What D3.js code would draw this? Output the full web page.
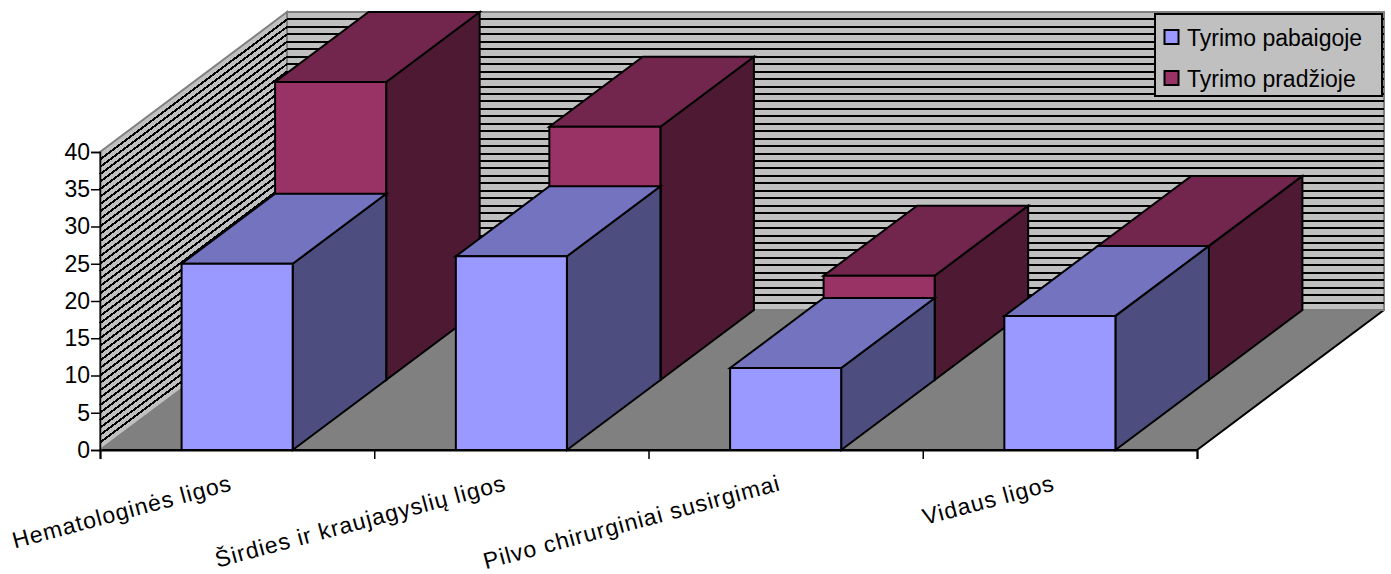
<!DOCTYPE html>
<meta charset="utf-8">
<style>
body { margin: 0; background: #fff; }
text { font-family: "Liberation Sans", Arial, sans-serif; fill: #000; }
.face { stroke: #000; stroke-width: 2; stroke-linejoin: miter; }
</style>
<svg width="1391" height="574"></svg>
<script src="https://cdn.jsdelivr.net/npm/d3@7"></script>
<script>

var categories = ["Hematologinės ligos", "Širdies ir kraujagyslių ligos", "Pilvo chirurginiai susirgimai", "Vidaus ligos"];
var pabaigoje = [25, 26, 11, 18];
var pradzioje = [40, 34, 14, 18];
var seriesNames = ["Tyrimo pabaigoje", "Tyrimo pradžioje"];
var yTicks = [0, 5, 10, 15, 20, 25, 30, 35, 40];

var svg = d3.select("svg");

var x = d3.scaleBand()
    .domain(categories)
    .range([100, 1197])
    .paddingInner(.595)
    .paddingOuter(.2975);

var xEdge = d3.scaleLinear().domain([0, 4]).range([100, 1197]);

var y = d3.scaleLinear().domain([0, 40]).range([450, 152]);

// depth goes from 0 (front) to 1 (back wall)
var depthX = d3.scaleLinear().domain([0, 1]).range([0, 187]);
var depthY = d3.scaleLinear().domain([0, 1]).range([0, -140]);

function pt(px, value, depth) {
  return [px + depthX(depth), y(value) + depthY(depth)];
}

var line = d3.line();
function poly(points) { return line(points) + "Z"; }

var x0 = xEdge(0), x1 = xEdge(4);

// floor
svg.append("path")
    .attr("d", poly([pt(x0, 0, 0), pt(x1, 0, 0), pt(x1, 0, 1), pt(x0, 0, 1)]))
    .attr("fill", "#808080");
svg.append("path")
    .attr("d", line([pt(x0, 0, 0), pt(x1, 0, 0), pt(x1, 0, 1)]))
    .attr("fill", "none")
    .attr("stroke", "#000")
    .attr("stroke-width", 2);

// walls
svg.append("path")
    .attr("d", poly([pt(x0, 0, 1), pt(x1, 0, 1), pt(x1, 40, 1), pt(x0, 40, 1)]))
    .attr("fill", "#c0c0c0")
    .attr("stroke", "#808080")
    .attr("stroke-width", 2);
svg.append("path")
    .attr("d", poly([pt(x0, 0, 0), pt(x0, 0, 1), pt(x0, 40, 1), pt(x0, 40, 0)]))
    .attr("fill", "#c0c0c0")
    .attr("stroke", "#808080")
    .attr("stroke-width", 2);

// gridlines, one per unit
var grid = svg.append("g")
    .attr("stroke", "#000")
    .attr("stroke-width", 2)
    .attr("shape-rendering", "crispEdges")
    .attr("fill", "none");
grid.selectAll(".back")
  .data(d3.range(1, 40))
  .enter().append("path")
    .attr("class", "back")
    .attr("d", function(d) { return line([pt(x0, d, 1), pt(x1, d, 1)]); });
grid.selectAll(".side")
  .data(d3.range(1, 40))
  .enter().append("path")
    .attr("class", "side")
    .attr("d", function(d) { return line([pt(x0, d, 0), pt(x0, d, 1)]); });

function drawBars(values, d0, d1, front, top, side) {
  var g = svg.append("g");
  categories.forEach(function(c, i) {
    var a = x(c), b = a + x.bandwidth(), v = values[i];
    g.append("path").attr("class", "face").attr("fill", side)
        .attr("d", poly([pt(b, 0, d0), pt(b, 0, d1), pt(b, v, d1), pt(b, v, d0)]));
    g.append("path").attr("class", "face").attr("fill", top)
        .attr("d", poly([pt(a, v, d0), pt(b, v, d0), pt(b, v, d1), pt(a, v, d1)]));
    g.append("path").attr("class", "face").attr("fill", front)
        .attr("d", poly([pt(a, 0, d0), pt(b, 0, d0), pt(b, v, d0), pt(a, v, d0)]));
  });
}

drawBars(pradzioje, .5, 1, "#993366", "#73264d", "#4d1933");
drawBars(pabaigoje, 0, .5, "#9999ff", "#7373bf", "#4d4d80");

// axes
var yAxis = svg.append("g")
    .attr("transform", "translate(" + x0 + ",0)")
    .call(d3.axisLeft(y).tickValues(yTicks).tickSize(9).tickPadding(1));
yAxis.selectAll("text").attr("font-size", 23).attr("font-family", null);
yAxis.selectAll("line").attr("stroke", "#000").attr("stroke-width", 1.5);
yAxis.select(".domain").attr("stroke-width", 1.5);

var xAxis = svg.append("g")
    .attr("transform", "translate(0," + y(0) + ")")
    .call(d3.axisBottom(xEdge).tickValues([0, 1, 2, 3, 4]).tickSize(9).tickFormat(""));
xAxis.selectAll("line").attr("stroke", "#000").attr("stroke-width", 1.5);
xAxis.select(".domain").attr("stroke-width", 2);

svg.append("g").selectAll("text")
  .data(categories)
  .enter().append("text")
    .attr("text-anchor", "end")
    .attr("font-size", 23)
    .attr("letter-spacing", 1)
    .attr("transform", function(d) {
      return "translate(" + (x(d) + x.bandwidth() / 2 - 4) + ",490) rotate(-15)";
    })
    .text(function(d) { return d; });

// legend
var legend = svg.append("g");
legend.append("rect")
    .attr("x", 1155).attr("y", 14)
    .attr("width", 227).attr("height", 82)
    .attr("fill", "#c0c0c0")
    .attr("stroke", "#000")
    .attr("stroke-width", 2);
var legendY = d3.scalePoint().domain(seriesNames).range([37, 78]);
var legendColor = d3.scaleOrdinal().domain(seriesNames).range(["#9999ff", "#993366"]);
legend.selectAll(".swatch")
  .data(seriesNames)
  .enter().append("rect")
    .attr("class", "swatch")
    .attr("x", 1164.5)
    .attr("y", function(d) { return legendY(d) - 7; })
    .attr("width", 14).attr("height", 14)
    .attr("fill", function(d) { return legendColor(d); })
    .attr("stroke", "#000")
    .attr("stroke-width", 2);
legend.selectAll(".label")
  .data(seriesNames)
  .enter().append("text")
    .attr("class", "label")
    .attr("x", 1187)
    .attr("y", function(d) { return legendY(d) + 9; })
    .attr("font-size", 23)
    .text(function(d) { return d; });

</script>
